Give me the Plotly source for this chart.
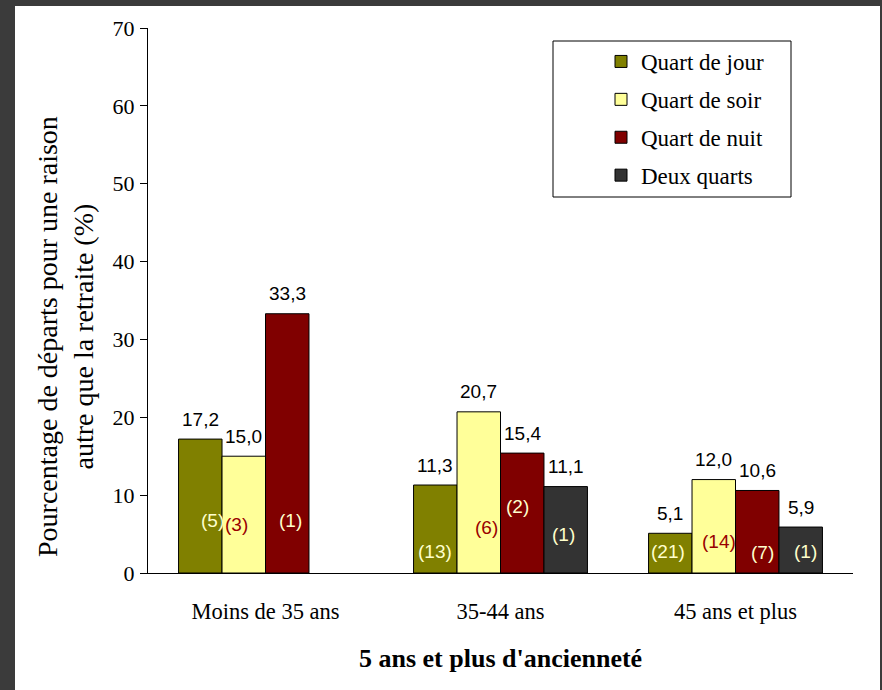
import plotly.graph_objects as go

# ---------------- data ----------------
categories = ["Moins de 35 ans", "35-44 ans", "45 ans et plus"]
series_names = ["Quart de jour", "Quart de soir", "Quart de nuit", "Deux quarts"]
jour = [17.2, 11.3, 5.1]
soir = [15.0, 20.7, 12.0]
nuit = [33.3, 15.4, 10.6]
deux = [None, 11.1, 5.9]
n_jour = [5, 13, 21]
n_soir = [3, 6, 14]
n_nuit = [1, 2, 7]
n_deux = [None, 1, 1]
y_ticks = [0, 10, 20, 30, 40, 50, 60, 70]

# ---------------- style / layout ----------------
bar_colors = ["#808000", "#FFFF99", "#800000", "#333333"]
count_colors = ["#FFFFCC", "#990000", "#FFFFCC", "#FFFFCC"]
# vertical placement (data units) of the count labels inside the bars
count_label_y = [
    [6.8, 2.7, 2.7],
    [6.2, 5.9, 4.0],
    [6.8, 8.5, 2.6],
    [None, 4.9, 2.7],
]
count_label_dx = [
    [12, 0, -2],
    [-7, 8, 5],
    [3, -5, 5],
    [0, -2, 5],
]

W, H = 882, 690
ML, MR, MT, MB = 148, 29, 28, 117
PW, PH = W - ML - MR, H - MT - MB
BARGAP = 0.26
bar_px = PW / len(categories) * (1 - BARGAP) / len(series_names)

SERIF = "Liberation Serif"
SANS = "Liberation Sans"


def px_x(px):
    return (px - ML) / PW


def px_y(py):
    return (H - MB - py) / PH


series_vals = [jour, soir, nuit, deux]
series_counts = [n_jour, n_soir, n_nuit, n_deux]

fig = go.Figure()
for i, (name, vals) in enumerate(zip(series_names, series_vals)):
    fig.add_trace(go.Bar(
        name=name,
        x=categories,
        y=vals,
        marker=dict(color=bar_colors[i], line=dict(color="black", width=1)),
        legendgroup=name,
        hoverinfo="skip",
    ))

annotations = []
for i, (vals, counts) in enumerate(zip(series_vals, series_counts)):
    off = (i - (len(series_names) - 1) / 2) * bar_px
    for j, cat in enumerate(categories):
        v = vals[j]
        if v is None:
            continue
        annotations.append(dict(
            x=cat, y=v, xref="x", yref="y", xshift=off, yshift=20,
            text=f"{v:.1f}".replace(".", ","), showarrow=False,
            font=dict(family=SANS, size=19, color="black"),
            yanchor="middle", xanchor="center",
        ))
        c = counts[j]
        if c is not None:
            annotations.append(dict(
                x=cat, y=count_label_y[i][j], xref="x", yref="y",
                xshift=off + count_label_dx[i][j],
                text=f"({c})", showarrow=False,
                font=dict(family=SANS, size=19, color=count_colors[i]),
                yanchor="middle", xanchor="center",
            ))

# axis titles
annotations.append(dict(
    x=px_x(65), y=px_y(337), xref="paper", yref="paper",
    text="Pourcentage de départs pour une raison<br>autre que la retraite (%)",
    textangle=-90, showarrow=False,
    font=dict(family=SERIF, size=28, color="black"),
    xanchor="center", yanchor="middle",
))
annotations.append(dict(
    x=px_x(501), y=px_y(658), xref="paper", yref="paper",
    text="<b>5 ans et plus d'ancienneté</b>", showarrow=False,
    font=dict(family=SERIF, size=26, color="black"),
    xanchor="center", yanchor="middle",
))

shapes = [
    # white card over dark frame
    dict(type="rect", xref="paper", yref="paper",
         x0=px_x(15), x1=px_x(880), y0=px_y(H + 5), y1=px_y(6),
         fillcolor="white", line=dict(width=0), layer="below"),
    # legend box
    dict(type="rect", xref="paper", yref="paper",
         x0=px_x(553), x1=px_x(791), y0=px_y(197), y1=px_y(41),
         fillcolor="rgba(0,0,0,0)", line=dict(color="black", width=1), layer="above"),
]

fig.update_layout(
    width=W, height=H,
    margin=dict(l=ML, r=MR, t=MT, b=MB),
    paper_bgcolor="#3b3b3b",
    plot_bgcolor="white",
    barmode="group",
    bargap=BARGAP,
    bargroupgap=0,
    showlegend=True,
    legend=dict(
        x=px_x(601), y=px_y(40), xanchor="left", yanchor="top",
        bgcolor="rgba(0,0,0,0)", borderwidth=0,
        font=dict(family=SERIF, size=23, color="black"),
        tracegroupgap=5, traceorder="grouped",
    ),
    xaxis=dict(
        range=[-0.5, 2.5], showline=True, linecolor="black", linewidth=1,
        ticks="", showgrid=False, zeroline=False,
        tickfont=dict(family=SERIF, size=22.5, color="black"),
        ticklabelstandoff=18,
    ),
    yaxis=dict(
        range=[0, 70], tickvals=y_ticks, ticktext=[str(t) for t in y_ticks],
        showline=True, linecolor="black", linewidth=1,
        ticks="outside", ticklen=7, tickcolor="black",
        showgrid=False, zeroline=False,
        tickfont=dict(family=SERIF, size=22, color="black"),
        ticklabelstandoff=1,
    ),
    annotations=annotations,
    shapes=shapes,
    font=dict(family=SERIF, color="black"),
)

fig.write_html(
    "out.html",
    config={"displayModeBar": False},
    post_script="document.body.style.margin='0';document.body.style.background='#3b3b3b';",
)
